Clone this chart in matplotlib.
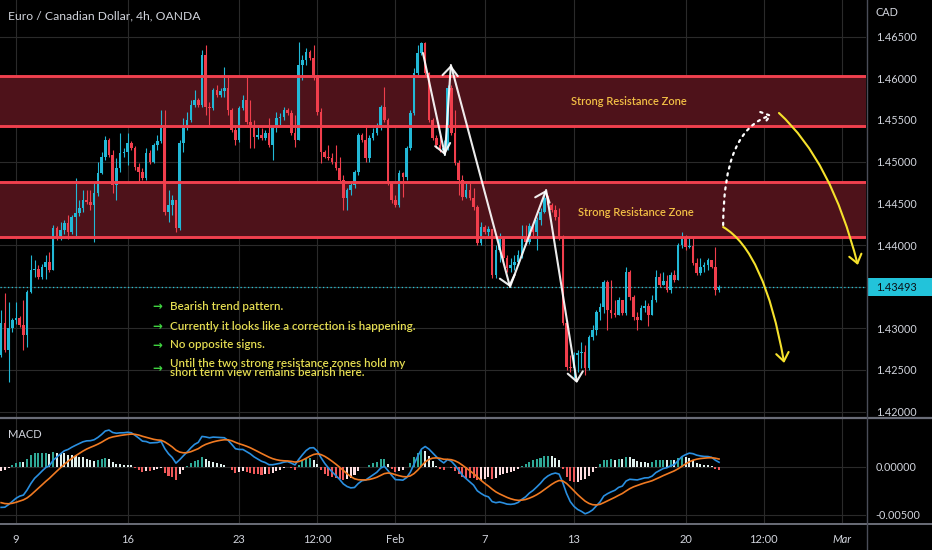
import numpy as np
import matplotlib
matplotlib.use("Agg")
import matplotlib.pyplot as plt
from matplotlib.patches import FancyArrowPatch, Rectangle
from matplotlib.path import Path
from matplotlib.lines import Line2D

plt.rcParams['font.family'] = ['Lato', 'DejaVu Sans']

# ---------------- data (EUR/CAD 4h, bar index 0 = Jan 9 00:00) ----------------
FIRST_BAR = -4
FIRST_OPEN = 1.42680
close = [
    1.43064, 1.42740, 1.43004, 1.43100,
    1.43124, 1.43040, 1.42920, 1.43436, 1.43700, 1.43712, 1.43616, 1.43736, 1.43796, 1.43700,
    1.44204, 1.44084, 1.44180, 1.44264, 1.44156, 1.44336, 1.44384, 1.44444, 1.44540, 1.44516,
    1.44480, 1.44624, 1.44864, 1.45056, 1.45260, 1.45080, 1.44720, 1.44924, 1.45104, 1.45116,
    1.45224, 1.45164, 1.44936, 1.44876, 1.44804, 1.45104, 1.44996, 1.45200, 1.45248, 1.45404,
    1.44396, 1.44480, 1.44540, 1.44204, 1.45224, 1.45404, 1.45500, 1.45680, 1.45740, 1.45680,
    1.46280, 1.45656, 1.45644, 1.45860, 1.45800, 1.45848, 1.45884, 1.45620, 1.45380, 1.45260,
    1.45644, 1.45740, 1.45476, 1.45440, 1.45296, 1.45320, 1.45284, 1.45344, 1.45200, 1.45416,
    1.45524, 1.45536, 1.45620, 1.45584, 1.45344, 1.45260, 1.46160, 1.46220, 1.46316, 1.46244,
    1.46040, 1.45596, 1.45116, 1.45056, 1.45044, 1.44996, 1.44924, 1.44780, 1.44564, 1.44660,
    1.44720, 1.44876, 1.45320, 1.45260, 1.45044, 1.45284, 1.45344, 1.45404, 1.45656, 1.45500,
    1.44744, 1.44540, 1.44480, 1.44864, 1.44816, 1.45164, 1.45584, 1.46064, 1.46304, 1.46424,
    1.46064, 1.45500, 1.45284, 1.45200, 1.45140, 1.45164, 1.45884, 1.45344, 1.44984, 1.44780,
    1.44576, 1.44660, 1.44564, 1.44456, 1.44024, 1.44216, 1.44156, 1.44192, 1.43640, 1.43940,
    1.44084, 1.43844, 1.43724, 1.43760, 1.43796, 1.43880, 1.44084, 1.44036, 1.44228, 1.44156,
    1.44300, 1.44396, 1.44564, 1.44480, 1.44420, 1.44336, 1.44096, 1.43064, 1.42536, 1.42524,
    1.42680, 1.42704, 1.42716, 1.42524, 1.42896, 1.42980, 1.43196, 1.43256, 1.43556, 1.43220,
    1.43184, 1.43160, 1.43340, 1.43184, 1.43676, 1.43376, 1.43136, 1.43100, 1.43244, 1.43268,
    1.43160, 1.43340, 1.43616, 1.43520, 1.43568, 1.43460, 1.43640, 1.43580, 1.44000, 1.44096,
    1.43976, 1.43988, 1.43784, 1.43664, 1.43736, 1.43760, 1.43820, 1.43736, 1.43460, 1.43493,
]
high = [
    1.43220, 1.43424, 1.43316, 1.43124,
    1.43316, 1.43148, 1.43340, 1.43460, 1.43880, 1.43820, 1.43760, 1.43772, 1.43880, 1.43916,
    1.44240, 1.44228, 1.44276, 1.44300, 1.44360, 1.44360, 1.44804, 1.44540, 1.44660, 1.44660,
    1.44660, 1.44756, 1.44996, 1.45116, 1.45308, 1.45284, 1.45140, 1.45044, 1.45344, 1.45164,
    1.45344, 1.45248, 1.45188, 1.44984, 1.44924, 1.45164, 1.45140, 1.45224, 1.45320, 1.45620,
    1.45620, 1.44660, 1.44600, 1.44540, 1.45260, 1.45524, 1.45596, 1.45740, 1.45860, 1.45764,
    1.46340, 1.46400, 1.45716, 1.45884, 1.45920, 1.45884, 1.46136, 1.46016, 1.45644, 1.45440,
    1.45668, 1.45800, 1.46016, 1.45740, 1.45500, 1.45416, 1.45404, 1.45380, 1.45524, 1.45440,
    1.45596, 1.45584, 1.45656, 1.45644, 1.45620, 1.45560, 1.46436, 1.46280, 1.46364, 1.46340,
    1.46400, 1.46040, 1.45644, 1.45140, 1.45200, 1.45104, 1.45200, 1.45056, 1.44840, 1.44684,
    1.44744, 1.44900, 1.45344, 1.45344, 1.45416, 1.45320, 1.45404, 1.45464, 1.45680, 1.45896,
    1.45524, 1.44756, 1.44600, 1.44900, 1.44876, 1.45188, 1.45620, 1.46124, 1.46400, 1.46436,
    1.46436, 1.46076, 1.45524, 1.45320, 1.45320, 1.45260, 1.45920, 1.45920, 1.45620, 1.45020,
    1.44840, 1.44744, 1.44744, 1.44684, 1.44480, 1.44276, 1.44240, 1.44228, 1.44180, 1.44000,
    1.44144, 1.44108, 1.43880, 1.43844, 1.43880, 1.43940, 1.44240, 1.44240, 1.44264, 1.44240,
    1.44336, 1.44444, 1.44636, 1.44600, 1.44504, 1.44480, 1.44444, 1.44120, 1.43100, 1.42680,
    1.42716, 1.42740, 1.42836, 1.42800, 1.42920, 1.43040, 1.43220, 1.43304, 1.43580, 1.43580,
    1.43580, 1.43340, 1.43376, 1.43340, 1.43736, 1.43700, 1.43400, 1.43196, 1.43280, 1.43340,
    1.43304, 1.43400, 1.43700, 1.43664, 1.43676, 1.43640, 1.43676, 1.43700, 1.44024, 1.44156,
    1.44120, 1.44084, 1.44084, 1.43844, 1.43844, 1.43796, 1.43844, 1.43820, 1.43976, 1.43520,
]
low = [
    1.42656, 1.42716, 1.42356, 1.42956,
    1.43052, 1.43016, 1.42740, 1.42776, 1.43424, 1.43616, 1.43592, 1.43592, 1.43592, 1.43676,
    1.43700, 1.44060, 1.44060, 1.44132, 1.44072, 1.44132, 1.44084, 1.44348, 1.44396, 1.44492,
    1.44420, 1.44036, 1.44588, 1.44852, 1.45020, 1.45056, 1.44624, 1.44540, 1.44876, 1.45056,
    1.44960, 1.45140, 1.44900, 1.44756, 1.44780, 1.44780, 1.44972, 1.44984, 1.45140, 1.45224,
    1.44360, 1.44276, 1.44360, 1.44156, 1.44180, 1.45116, 1.45380, 1.45476, 1.45656, 1.45656,
    1.45656, 1.45560, 1.45440, 1.45620, 1.45776, 1.45776, 1.45776, 1.45560, 1.45356, 1.45200,
    1.45236, 1.45620, 1.45452, 1.45164, 1.45164, 1.45272, 1.45260, 1.45260, 1.45176, 1.45020,
    1.45356, 1.45440, 1.45500, 1.45560, 1.45320, 1.45176, 1.45296, 1.45980, 1.46160, 1.46220,
    1.45980, 1.45560, 1.44984, 1.45044, 1.45020, 1.44972, 1.44900, 1.44744, 1.44420, 1.44420,
    1.44600, 1.44684, 1.44840, 1.45236, 1.44996, 1.44996, 1.45260, 1.45320, 1.45380, 1.45476,
    1.44720, 1.44504, 1.44456, 1.44456, 1.44576, 1.44780, 1.45140, 1.45560, 1.46040, 1.46280,
    1.46040, 1.45476, 1.45260, 1.45164, 1.45116, 1.45080, 1.45140, 1.45320, 1.44960, 1.44600,
    1.44540, 1.44564, 1.44540, 1.44420, 1.44000, 1.44000, 1.44132, 1.44108, 1.43604, 1.43604,
    1.43796, 1.43796, 1.43676, 1.43676, 1.43700, 1.43760, 1.43844, 1.44000, 1.44012, 1.44108,
    1.43940, 1.44240, 1.44384, 1.44456, 1.44396, 1.44300, 1.44060, 1.43040, 1.42500, 1.42476,
    1.42404, 1.42476, 1.42524, 1.42440, 1.42500, 1.42860, 1.42920, 1.43100, 1.43184, 1.42980,
    1.43124, 1.43136, 1.43160, 1.43160, 1.43160, 1.43340, 1.43100, 1.42980, 1.43124, 1.43196,
    1.43028, 1.43160, 1.43316, 1.43496, 1.43520, 1.43436, 1.43424, 1.43556, 1.43580, 1.43964,
    1.43940, 1.43964, 1.43760, 1.43640, 1.43640, 1.43676, 1.43700, 1.43724, 1.43400, 1.43436,
]

# MACD(12, 26, 9) seeds carried in from the bars before the visible window
EMA_FAST_SEED = 1.4312
EMA_SLOW_SEED = 1.4357
SIGNAL_SEED = -0.0036

# x-axis labels
tick_bars = [0, 30, 60, 81, 102, 126, 150, 180, 201, 222]
tick_labels = ['9', '16', '23', '12:00', 'Feb', '7', '13', '20', '12:00', 'Mar']
price_ticks = [1.420, 1.425, 1.430, 1.435, 1.440, 1.445, 1.450, 1.455, 1.460, 1.465]
macd_ticks = [0.0, -0.005]
last_price = 1.43493

# resistance zones (bottom, top)
zones = [(1.45428, 1.46032), (1.44102, 1.44756)]
zone_labels = [(164.8, 1.45728), (166.7, 1.44396)]

# drawn zigzag (bar, price)
zigzag = [(109.4, 1.46304), (115.3, 1.45080), (116.9, 1.46160),
          (132.8, 1.43496), (142.5, 1.44660), (150.8, 1.42344)]
# projected curves: start, control, end
curve_down_near = [(190.1, 1.44216), (201.2, 1.43928), (206.5, 1.42584)]
curve_down_far = [(205.1, 1.45584), (219.2, 1.45008), (226.3, 1.43760)]
curve_up_dotted = [(190.1, 1.44240), (190.1, 1.45380), (203.2, 1.45560)]

bullets = ["Bearish trend pattern.",
           "Currently it looks like a correction is happening.",
           "No opposite signs.",
           "Until the two strong resistance zones hold my\nshort term view remains bearish here."]
bullet_y = [1.43268, 1.43028, 1.42800, 1.42524]

# ---------------- style ----------------
BG = '#000000'
GRID = '#2a2a2a'
TXT = '#d1d4dc'
UP = '#22b8d6'
DOWN = '#f03e4c'
ZONE_FILL = '#4e121a'
ZONE_LINE = '#f0404e'

W, H = 932, 550
fig = plt.figure(figsize=(W / 100, H / 100), dpi=100, facecolor=BG)
axw = 866 / W
ax = fig.add_axes([0, 1 - 417 / H, axw, 417 / H], facecolor=BG)
axm = fig.add_axes([0, 1 - 523 / H, axw, 104 / H], facecolor=BG, sharex=ax)

o = np.array([FIRST_OPEN] + close[:-1])
c = np.array(close)
h = np.maximum(np.array(high), np.maximum(o, c))
l = np.minimum(np.array(low), np.minimum(o, c))
x = np.arange(len(c)) + FIRST_BAR
up = c >= o
cols = np.where(up, UP, DOWN)

# grid
for tb in tick_bars:
    ax.axvline(tb, color=GRID, lw=0.8, zorder=0)
    axm.axvline(tb, color=GRID, lw=0.8, zorder=0)
for pt in price_ticks:
    ax.axhline(pt, color=GRID, lw=0.8, zorder=0)
for mt in macd_ticks:
    axm.axhline(mt, color=GRID, lw=0.8, zorder=0)

# zones
for zb, zt in zones:
    ax.axhspan(zb, zt, color=ZONE_FILL, lw=0, zorder=1)
    ax.axhline(zb, color=ZONE_LINE, lw=2.1, zorder=4)
    ax.axhline(zt, color=ZONE_LINE, lw=2.1, zorder=4)

# candles
ax.vlines(x, l, h, colors=cols, lw=0.8, zorder=2)
body_b = np.minimum(o, c)
body_h = np.maximum(np.abs(c - o), 0.00004)
ax.bar(x, body_h, bottom=body_b, width=0.7, color=cols, lw=0, zorder=3)

# last price line
ax.axhline(last_price, color='#26c6da', lw=0.9, ls=(0, (1, 2)), zorder=2)

ax.set_xlim(-4.3, 228.5)
ax.set_ylim(1.41936, 1.4694)

# zone labels
for (zx, zy) in zone_labels:
    ax.text(zx, zy, 'Strong Resistance Zone', color='#f2bf45', fontsize=8,
            fontweight='semibold', ha='center', va='center', zorder=6)

# bullets
for txt, by in zip(bullets, bullet_y):
    ax.text(37.9, by, '\u2192', color='#3fd23f', fontsize=8.5, fontweight='bold',
            ha='center', va='center', family=['DejaVu Sans'], zorder=6)
    ax.text(41.4, by, txt, color='#e6de52', fontsize=8.4, fontweight='semibold',
            ha='left', va='center', linespacing=0.85, zorder=6)

# zigzag arrows
for (p0, p1) in zip(zigzag[:-1], zigzag[1:]):
    ax.annotate('', xy=p1, xytext=p0,
                arrowprops=dict(arrowstyle='->,head_length=0.65,head_width=0.55',
                                color='white', lw=1.5, shrinkA=0, shrinkB=0,
                                alpha=0.92), zorder=7)


def curve(pts, color, ls='-', lw=1.5):
    path = Path(pts, [Path.MOVETO, Path.CURVE3, Path.CURVE3])
    arr = FancyArrowPatch(path=path, arrowstyle='->,head_length=6,head_width=4.5',
                          color=color, lw=lw, linestyle=ls, zorder=7)
    ax.add_patch(arr)


curve(curve_down_near, '#f5e12c')
curve(curve_down_far, '#f5e12c')
curve(curve_up_dotted, 'white', ls=(0, (1, 2.2)), lw=1.6)

# axes ticks
ax.yaxis.tick_right()
ax.set_yticks(price_ticks)
ax.set_yticklabels([f'{v:.5f}' for v in price_ticks])
ax.tick_params(axis='y', length=0, pad=7, labelsize=7.8, labelcolor=TXT)
ax.tick_params(axis='x', length=0, labelbottom=False)
for s in ax.spines.values():
    s.set_visible(False)

# MACD
def ema(values, n, seed):
    a = 2.0 / (n + 1)
    e = seed
    out = []
    for v in values:
        e = e + a * (v - e)
        out.append(e)
    return np.array(out)

macd = ema(c, 12, EMA_FAST_SEED) - ema(c, 26, EMA_SLOW_SEED)
sig = ema(macd, 9, SIGNAL_SEED)
hist = macd - sig
prev = np.r_[hist[0], hist[:-1]]
hcols = np.where(hist >= 0,
                 np.where(hist >= prev, '#2fa896', '#dff0ec'),
                 np.where(hist < prev, '#f0595a', '#fddde0'))
axm.bar(x, hist, width=0.55, color=hcols, lw=0, zorder=2)
axm.plot(x, macd, color='#2a8fe0', lw=1.2, zorder=3)
axm.plot(x, sig, color='#f07a22', lw=1.2, zorder=3)
axm.set_ylim(-0.00583, 0.00494)
axm.yaxis.tick_right()
axm.set_yticks(macd_ticks)
axm.set_yticklabels([f'{v:.5f}' for v in macd_ticks])
axm.tick_params(axis='y', length=0, pad=7, labelsize=7.8, labelcolor=TXT)
axm.set_xticks(tick_bars)
axm.set_xticklabels(tick_labels)
axm.tick_params(axis='x', length=0, pad=8, labelsize=8, labelcolor=TXT)
axm.get_xticklabels()[-1].set_style('italic')
for s in axm.spines.values():
    s.set_visible(False)

# separators
fig.add_artist(Line2D([0, 1], [1 - 417.5 / H] * 2, color='#6a6d78', lw=1.6))
fig.add_artist(Line2D([0, 1], [1 - 523.5 / H] * 2, color='#6a6d78', lw=1.4))
fig.add_artist(Line2D([axw + 0.5 / W] * 2, [0, 1], color='#4a4d58', lw=1.0))

# texts
fig.text(8 / W, 1 - 16 / H, 'Euro / Canadian Dollar, 4h, OANDA', color=TXT,
         fontsize=8.7, va='center', ha='left')
fig.text(8 / W, 1 - 435 / H, 'MACD', color=TXT, fontsize=8, va='center', ha='left')
fig.text(876 / W, 1 - 13 / H, 'CAD', color=TXT, fontsize=7.8, va='center', ha='left')

# last price label box
fig.canvas.draw()
py = ax.transData.transform((0, last_price))[1]
fig.add_artist(Rectangle((867 / W, (py - 9) / H), 65 / W, 18 / H,
                         transform=fig.transFigure, color='#22c3da', lw=0))
fig.text(876 / W, py / H, f'{last_price:.5f}', color='#0b1016', fontsize=7.8,
         va='center', ha='left')

fig.savefig('out.png', dpi=100, facecolor=BG)
